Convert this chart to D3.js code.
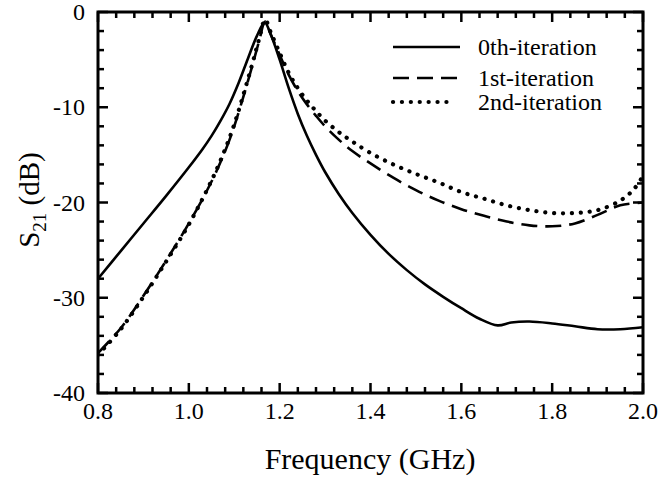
<!DOCTYPE html>
<html>
<head>
<meta charset="utf-8">
<script src="https://cdn.jsdelivr.net/npm/d3@7"></script>
<style>
  body { margin: 0; background: #fff; }
  text { font-family: "Liberation Serif", "Times New Roman", serif; fill: #000; }
</style>
</head>
<body>
<div id="chart"></div>
<script>
// frequency (GHz) / S21 (dB)
var freq0 = [0.8, 0.85, 0.9, 0.95, 1.0, 1.03, 1.05, 1.07, 1.09, 1.11, 1.13, 1.15, 1.167, 1.18, 1.2, 1.22, 1.24, 1.26, 1.28, 1.3, 1.33, 1.36, 1.4, 1.44, 1.48, 1.52, 1.56, 1.6, 1.64, 1.68, 1.71, 1.75, 1.8, 1.85, 1.9, 1.95, 2.0];
var s0 = [-28.0, -25.1, -22.2, -19.3, -16.3, -14.4, -13.0, -11.4, -9.6, -7.4, -4.9, -2.5, -1.1, -2.3, -5.0, -8.0, -10.7, -13.0, -15.0, -16.8, -19.1, -21.1, -23.4, -25.4, -27.1, -28.6, -29.9, -31.1, -32.2, -32.9, -32.6, -32.5, -32.7, -33.0, -33.3, -33.3, -33.1];

var freq1 = [0.8, 0.85, 0.9, 0.95, 1.0, 1.05, 1.08, 1.1, 1.12, 1.14, 1.155, 1.168, 1.18, 1.2, 1.22, 1.24, 1.26, 1.28, 1.3, 1.33, 1.36, 1.4, 1.45, 1.5, 1.55, 1.6, 1.65, 1.7, 1.75, 1.8, 1.85, 1.9, 1.95, 2.0];
var s1 = [-35.8, -33.2, -29.8, -26.1, -22.2, -17.8, -14.6, -12.0, -8.9, -5.6, -3.0, -1.0, -2.3, -4.5, -6.6, -8.3, -9.7, -10.9, -12.0, -13.4, -14.6, -15.9, -17.4, -18.7, -19.8, -20.7, -21.4, -22.0, -22.4, -22.5, -22.2, -21.3, -20.3, -20.0];

var freq2 = [0.8, 0.85, 0.9, 0.95, 1.0, 1.05, 1.08, 1.1, 1.12, 1.14, 1.155, 1.168, 1.18, 1.2, 1.22, 1.24, 1.26, 1.28, 1.3, 1.33, 1.36, 1.4, 1.45, 1.5, 1.55, 1.6, 1.65, 1.7, 1.75, 1.8, 1.85, 1.9, 1.95, 1.98, 2.0];
var s2 = [-36.0, -33.3, -29.9, -26.2, -22.3, -17.7, -14.4, -11.8, -8.7, -5.4, -2.8, -0.8, -2.1, -4.3, -6.4, -8.0, -9.3, -10.4, -11.4, -12.6, -13.6, -14.8, -16.0, -17.0, -17.9, -18.9, -19.6, -20.3, -20.8, -21.1, -21.1, -20.8, -19.8, -18.6, -17.2];

var xTicks = [0.8, 1.0, 1.2, 1.4, 1.6, 1.8, 2.0];
var yTicks = [0, -10, -20, -30, -40];
var seriesNames = ['0th-iteration', '1st-iteration', '2nd-iteration'];

var W = 659, H = 477;
var mLeft = 98, mRight = 643, mTop = 12, mBottom = 393;

var svg = d3.select('#chart').append('svg')
  .attr('width', W)
  .attr('height', H);

var x = d3.scaleLinear().domain([0.8, 2.0]).range([mLeft, mRight]);
var y = d3.scaleLinear().domain([-40, 0]).range([mBottom, mTop]);

var minorX = d3.range(0.8, 2.0001, 0.04);
var minorY = d3.range(-40, 0.0001, 2);

svg.append('clipPath').attr('id', 'clip')
  .append('rect')
  .attr('x', mLeft).attr('y', mTop)
  .attr('width', mRight - mLeft).attr('height', mBottom - mTop);

var line = d3.line()
  .x(function(d){ return x(d[0]); })
  .y(function(d){ return y(d[1]); })
  .curve(d3.curveCatmullRom.alpha(0.5));

var styles = [
  { dash: null, width: 2.6, cap: 'butt' },
  { dash: '16 8', width: 2.6, cap: 'butt' },
  { dash: '0.1 8.8', width: 4.2, cap: 'round' }
];

var data = [d3.zip(freq0, s0), d3.zip(freq1, s1), d3.zip(freq2, s2)];

var plot = svg.append('g').attr('clip-path', 'url(#clip)');
data.forEach(function(d, i){
  plot.append('path')
    .datum(d)
    .attr('d', line)
    .attr('fill', 'none')
    .attr('stroke', '#000')
    .attr('stroke-width', styles[i].width)
    .attr('stroke-linecap', styles[i].cap)
    .attr('stroke-dasharray', styles[i].dash);
});

// ticks, pointing inward on all four sides
var ticks = svg.append('g').attr('stroke', '#000').attr('stroke-width', 2.5);
minorX.forEach(function(v){
  var major = xTicks.some(function(t){ return Math.abs(t - v) < 1e-6; });
  var len = major ? 10 : 6;
  ticks.append('line').attr('x1', x(v)).attr('x2', x(v)).attr('y1', mBottom).attr('y2', mBottom - len);
  ticks.append('line').attr('x1', x(v)).attr('x2', x(v)).attr('y1', mTop).attr('y2', mTop + len);
});
minorY.forEach(function(v){
  var major = yTicks.some(function(t){ return Math.abs(t - v) < 1e-6; });
  var len = major ? 10 : 6;
  ticks.append('line').attr('y1', y(v)).attr('y2', y(v)).attr('x1', mLeft).attr('x2', mLeft + len);
  ticks.append('line').attr('y1', y(v)).attr('y2', y(v)).attr('x1', mRight).attr('x2', mRight - len);
});

svg.append('rect')
  .attr('x', mLeft).attr('y', mTop)
  .attr('width', mRight - mLeft).attr('height', mBottom - mTop)
  .attr('fill', 'none')
  .attr('stroke', '#000')
  .attr('stroke-width', 3);

// tick labels
svg.selectAll('.xl').data(xTicks).enter().append('text')
  .attr('x', function(d){ return x(d); })
  .attr('y', 419)
  .attr('text-anchor', 'middle')
  .style('font-size', '24px')
  .text(function(d){ return d3.format('.1f')(d); });

svg.selectAll('.yl').data(yTicks).enter().append('text')
  .attr('x', 85)
  .attr('y', function(d){ return y(d) + 8; })
  .attr('text-anchor', 'end')
  .style('font-size', '24px')
  .text(function(d){ return d; });

svg.append('text')
  .attr('x', 370)
  .attr('y', 469)
  .attr('text-anchor', 'middle')
  .style('font-size', '30px')
  .text('Frequency (GHz)');

var yl = svg.append('text')
  .attr('transform', 'translate(39,' + 200 + ') rotate(-90)')
  .attr('text-anchor', 'middle')
  .style('font-size', '29px');
yl.append('tspan').text('S');
yl.append('tspan').attr('dy', 7).style('font-size', '19px').text('21');
yl.append('tspan').attr('dy', -7).text(' (dB)');

// legend
var legend = svg.append('g');
var legendY = [47, 78, 102];
seriesNames.forEach(function(name, i){
  legend.append('line')
    .attr('x1', 393).attr('x2', i == 2 ? 455 : 460)
    .attr('y1', legendY[i]).attr('y2', legendY[i])
    .attr('stroke', '#000')
    .attr('stroke-width', styles[i].width)
    .attr('stroke-linecap', styles[i].cap)
    .attr('stroke-dasharray', styles[i].dash);
  legend.append('text')
    .attr('x', 478)
    .attr('y', legendY[i] + 8)
    .style('font-size', '24px')
    .text(name);
});
</script>
</body>
</html>
